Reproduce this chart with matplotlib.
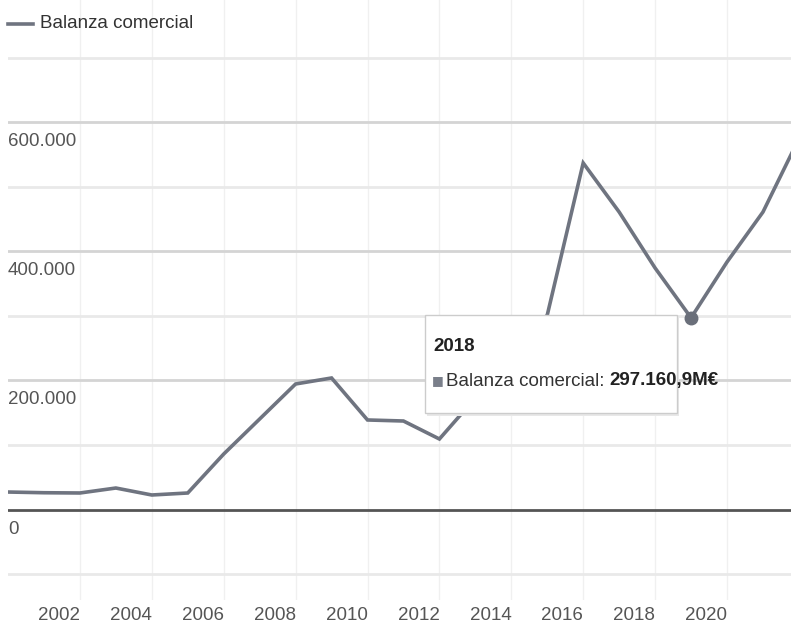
import matplotlib
matplotlib.use("Agg")
import matplotlib.pyplot as plt
from matplotlib.patches import FancyBboxPatch
from matplotlib.transforms import offset_copy

plt.rcParams['font.family'] = ['DejaVu Sans Condensed', 'Liberation Sans', 'DejaVu Sans']

# data (valor en millones de euros)
years = [1999, 2000, 2001, 2002, 2003, 2004, 2005, 2006, 2007, 2008, 2009,
         2010, 2011, 2012, 2013, 2014, 2015, 2016, 2017, 2018, 2019, 2020, 2021]
balanza = [27100, 26000, 25600, 33300, 22500, 25600, 86000, 140300, 194600,
           203900, 138800, 137200, 109300, 172900, 236400, 301500, 537200,
           461200, 374400, 297160.9, 383700, 461200, 575000]
tick_years = [2002, 2004, 2006, 2008, 2010, 2012, 2014, 2016, 2018, 2020]
grid_years = [2001, 2003, 2005, 2007, 2009, 2011, 2013, 2015, 2017, 2019]
y_major = [0, 200000, 400000, 600000]
y_minor = [-100000, 100000, 300000, 500000, 700000]
y_labels = ['0', '200.000', '400.000', '600.000']
hl_year = 2018
hl_value = 297160.9

W, H = 791, 629
fs = 13.5
fig = plt.figure(figsize=(W / 100, H / 100), dpi=100)
ax = fig.add_axes([8 / W, 29 / H, 783 / W, 600 / H])
ax.set_xlim(1999, 2020.78)
ax.set_ylim(-140300, 789900)
for s in ax.spines.values():
    s.set_visible(False)

line_c = '#6f7480'

# grid
for g in grid_years:
    ax.axvline(g, color='#f0f0f0', lw=1, zorder=0)
for v in y_minor:
    ax.axhline(v, color='#e9e9e9', lw=2, zorder=0)
for v in y_major[1:]:
    ax.axhline(v, color='#d4d4d4', lw=2, zorder=0)
ax.axhline(0, color='#555555', lw=2, zorder=1)

ax.plot(years, balanza, color=line_c, lw=2.6, zorder=3, solid_joinstyle='miter')
ax.plot([hl_year], [hl_value], 'o', color='#6a6f7a', ms=9, zorder=4)

# y labels below gridlines
lab_tr = offset_copy(ax.transData, fig=fig, x=0, y=-11, units='dots')
for v, t in zip(y_major, y_labels):
    ax.text(1999, v, t, transform=lab_tr, ha='left', va='top',
            fontsize=fs, color='#555555')

ax.set_xticks([])
ax.set_yticks([])
for yr in tick_years:
    ax.text(yr - 1.58, -164000, str(yr), ha='center', va='center',
            fontsize=fs, color='#555555', clip_on=False)

# legend
fig.lines.append(plt.Line2D([8 / W, 33 / W], [1 - 24 / H, 1 - 24 / H],
                            transform=fig.transFigure, color=line_c, lw=2.6))
fig.text(40 / W, 1 - 23 / H, 'Balanza comercial', ha='left', va='center',
         fontsize=fs, color='#333333')

# tooltip
box = FancyBboxPatch((425 / W, 1 - 413 / H), 252 / W, 98 / H,
                     boxstyle='square,pad=0', transform=fig.transFigure,
                     facecolor='white', edgecolor='#cccccc', lw=1, zorder=10)
shadow = FancyBboxPatch((427 / W, 1 - 416 / H), 252 / W, 98 / H,
                        boxstyle='square,pad=0', transform=fig.transFigure,
                        facecolor='#e8e8e8', edgecolor='none', zorder=9)
fig.patches.extend([shadow, box])
fig.text(433 / W, 1 - 346 / H, str(hl_year), ha='left', va='center',
         fontsize=fs, fontweight='bold', color='#222222', zorder=11)
fig.text(432 / W, 1 - 381 / H, '■', ha='left', va='center', fontsize=9,
         color='#7a7f8a', family=['DejaVu Sans'], zorder=11)
t1 = fig.text(446 / W, 1 - 381 / H, 'Balanza comercial: ', ha='left',
              va='center', fontsize=fs, color='#333333', zorder=11)
fig.canvas.draw()
bb = t1.get_window_extent()
fig.text(bb.x1 / W, 1 - 381 / H, '297.160,9M€', ha='left', va='center',
         fontsize=fs, fontweight='bold', color='#222222', zorder=11)

fig.savefig('out.png', dpi=100)
